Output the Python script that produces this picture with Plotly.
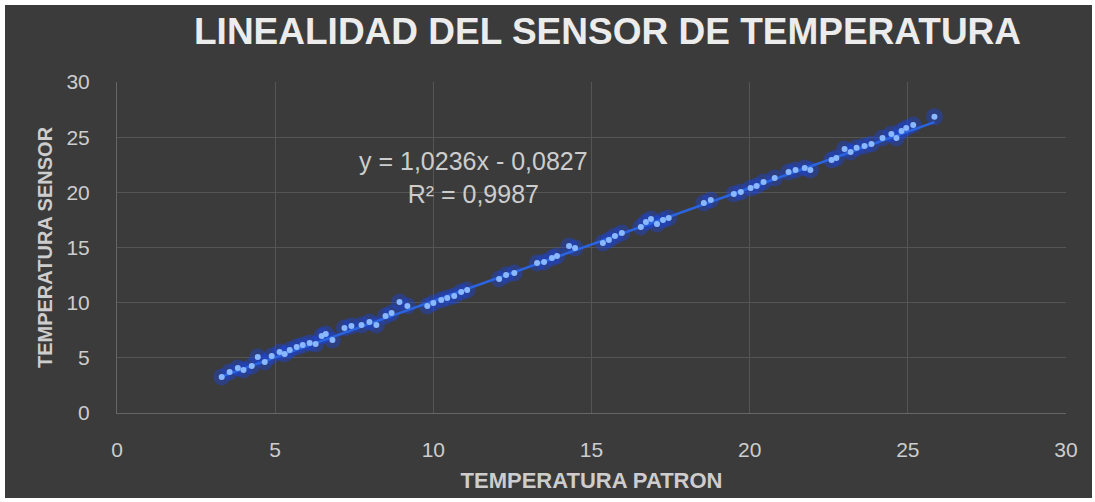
import plotly.graph_objects as go

# Reference (patron) temperature vs. sensor reading, °C
temp_patron = [
    3.31, 3.56, 3.82, 4.00, 4.26, 4.45, 4.67, 4.89, 5.14, 5.30,
    5.46, 5.68, 5.87, 6.09, 6.28, 6.47, 6.60, 6.81, 7.19, 7.41,
    7.73, 7.98, 8.20, 8.49, 8.68, 8.93, 9.18, 9.81, 10.00, 10.25,
    10.44, 10.66, 10.88, 11.07, 12.08, 12.30, 12.56, 13.28, 13.50, 13.75,
    13.91, 14.29, 14.48, 15.36, 15.55, 15.74, 15.96, 16.56, 16.72, 16.88,
    17.07, 17.26, 17.44, 18.55, 18.77, 19.50, 19.72, 20.03, 20.22, 20.44,
    20.79, 21.23, 21.45, 21.74, 21.92, 22.59, 22.74, 23.00, 23.19, 23.38,
    23.63, 23.85, 24.20, 24.48, 24.64, 24.80, 24.95, 25.17, 25.84,
]
temp_sensor = [
    3.26, 3.72, 4.08, 3.90, 4.26, 5.08, 4.62, 5.17, 5.53, 5.35,
    5.71, 5.98, 6.17, 6.35, 6.26, 6.98, 7.16, 6.62, 7.71, 7.89,
    7.98, 8.25, 7.98, 8.79, 9.07, 10.06, 9.70, 9.70, 9.97, 10.24,
    10.43, 10.61, 10.97, 11.15, 12.15, 12.51, 12.69, 13.60, 13.69, 14.05,
    14.23, 15.14, 14.96, 15.41, 15.68, 16.05, 16.32, 16.86, 17.32, 17.59,
    17.13, 17.50, 17.68, 19.04, 19.31, 19.85, 20.04, 20.40, 20.58, 20.94,
    21.30, 21.85, 22.03, 22.21, 22.03, 22.94, 23.12, 23.93, 23.66, 24.03,
    24.21, 24.39, 24.93, 25.29, 24.93, 25.57, 25.84, 26.11, 26.84,
]

# Linear trendline coefficients as printed on the chart
slope = 1.0236
intercept = -0.0827
r_squared = 0.9987

axis_ticks = [0, 5, 10, 15, 20, 25, 30]

W, H = 1095, 502
ML, MR, MT, MB = 117, 29, 82, 89
PW, PH = W - ML - MR, H - MT - MB


def px_x(p):
    return (p - ML) / PW


def px_y(p):
    return (H - MB - p) / PH


bg = "#3b3b3b"
grid = "#555555"
txt = "#cdcdcd"
font_main = "Liberation Sans, Arial"

x_lo, x_hi = min(temp_patron), max(temp_patron)
trend_x = [x_lo, x_hi]
trend_y = [slope * v + intercept for v in trend_x]

fig = go.Figure()

# soft glow under the markers
fig.add_trace(go.Scatter(
    x=temp_patron, y=temp_sensor, mode="markers",
    marker=dict(size=17, color="rgba(25,70,230,0.40)", line=dict(width=0)),
    hoverinfo="skip", showlegend=False,
))
fig.add_trace(go.Scatter(
    x=trend_x, y=trend_y, mode="lines",
    line=dict(color="#2b64e0", width=2.5),
    hoverinfo="skip", showlegend=False,
))
fig.add_trace(go.Scatter(
    x=temp_patron, y=temp_sensor, mode="markers",
    marker=dict(size=6, color="#8ab8ff", line=dict(width=0)),
    showlegend=False,
))

fig.add_shape(
    type="rect", xref="paper", yref="paper", layer="below",
    x0=px_x(5), x1=px_x(W - 3), y0=px_y(H - 4), y1=px_y(5),
    fillcolor=bg, line=dict(width=0),
)

fig.add_annotation(
    xref="paper", yref="paper", x=px_x(607), y=px_y(32),
    text="<b>LINEALIDAD DEL SENSOR DE TEMPERATURA</b>", showarrow=False,
    font=dict(family=font_main, size=37, color="#ececec"),
    xanchor="center", yanchor="middle",
)
fig.add_annotation(
    xref="paper", yref="paper", x=px_x(473), y=px_y(177),
    text=f"y = {slope:.4f}x - {abs(intercept):.4f}".replace(".", ",")
         + f"<br>R² = {r_squared:.4f}".replace(".", ","),
    showarrow=False, align="center",
    font=dict(family=font_main, size=25, color=txt),
    xanchor="center", yanchor="middle",
)

fig.update_layout(
    width=W, height=H,
    margin=dict(l=ML, r=MR, t=MT, b=MB),
    paper_bgcolor="white",
    plot_bgcolor="rgba(0,0,0,0)",
    font=dict(family=font_main, color=txt),
    xaxis=dict(
        range=[0, 30], tickvals=axis_ticks, showgrid=True, gridcolor=grid,
        gridwidth=1, zeroline=False, showline=True, linecolor="#666666",
        tickfont=dict(size=21, color=txt), ticklabelstandoff=18,
        title=dict(text="<b>TEMPERATURA PATRON</b>", standoff=12,
                   font=dict(size=22, color=txt)),
    ),
    yaxis=dict(
        range=[0, 30], tickvals=axis_ticks, showgrid=True, gridcolor=grid,
        gridwidth=1, zeroline=False, showline=True, linecolor="#666666",
        tickfont=dict(size=21, color=txt), ticklabelstandoff=22,
        title=dict(text="<b>TEMPERATURA SENSOR</b>", standoff=8,
                   font=dict(size=20, color=txt)),
    ),
)

fig.write_html("out.html")
